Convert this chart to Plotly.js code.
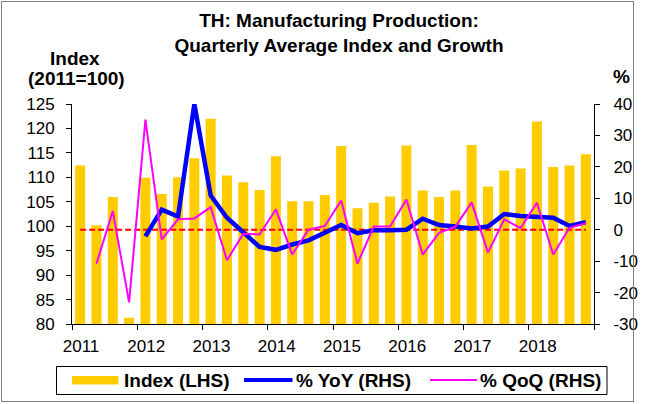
<!DOCTYPE html>
<html>
<head>
<meta charset="utf-8">
<script src="https://cdn.plot.ly/plotly-3.0.1.min.js"></script>
<style>
  html, body { margin: 0; padding: 0; background: #fff; }
  #wrap { position: relative; width: 649px; height: 404px; }
  #chart { width: 649px; height: 404px; }
  #frame { position: absolute; left: 1px; top: 1px; width: 631px; height: 399px;
           border: 1px solid #808080; pointer-events: none; }
</style>
</head>
<body>
<div id="wrap"><div id="chart"></div><div id="frame"></div></div>
<script>
// ---- data ----
const quarters = [
  "2011Q1","2011Q2","2011Q3","2011Q4",
  "2012Q1","2012Q2","2012Q3","2012Q4",
  "2013Q1","2013Q2","2013Q3","2013Q4",
  "2014Q1","2014Q2","2014Q3","2014Q4",
  "2015Q1","2015Q2","2015Q3","2015Q4",
  "2016Q1","2016Q2","2016Q3","2016Q4",
  "2017Q1","2017Q2","2017Q3","2017Q4",
  "2018Q1","2018Q2","2018Q3","2018Q4"
];
const indexLHS = [
  112.4, 100.2, 106.0, 81.3,
  109.9, 106.6, 110.0, 113.9,
  122.0, 110.4, 109.0, 107.4,
  114.3, 105.1, 105.1, 106.4,
  116.4, 103.7, 104.8, 106.1,
  116.5, 107.3, 106.0, 107.3,
  116.6, 108.1, 111.4, 111.8,
  121.4, 112.1, 112.4, 114.7
];
const yoyRHS = [
  null, null, null, null,
  -2.1, 6.4, 4.2, 40.0,
  10.9, 3.8, -0.8, -5.5,
  -6.4, -4.7, -3.4, -0.8,
  1.5, -1.1, -0.2, -0.2,
  0.0, 3.5, 1.5, 1.0,
  0.4, 1.0, 5.0, 4.4,
  4.1, 3.8, 1.2, 2.4
];
const qoqRHS = [
  null, -10.8, 5.9, -23.1,
  35.0, -3.1, 3.3, 3.6,
  7.2, -9.7, -1.3, -1.5,
  6.5, -7.9, 0.0, 1.2,
  9.3, -10.8, 1.0, 1.0,
  9.6, -7.9, -1.0, 1.0,
  8.7, -7.3, 3.3, 0.5,
  8.6, -7.9, 0.6, 2.1
];
const yearTicks = [2011, 2012, 2013, 2014, 2015, 2016, 2017, 2018, 2019];
const yearLabels = ["2011","2012","2013","2014","2015","2016","2017","2018",""];
const lhsTicks = [80, 85, 90, 95, 100, 105, 110, 115, 120, 125];
const rhsTicks = [-30, -20, -10, 0, 10, 20, 30, 40];
const rhsLabels = ["-30", "-20", "-10", "0", "10", "20", "30", "40"];

// quarter label -> position on a continuous year axis (centre of the quarter)
const xPos = quarters.map(q => {
  const y = parseInt(q.slice(0, 4), 10);
  const n = parseInt(q.slice(5), 10);
  return y + (n - 1) / 4 + 0.125;
});

// ---- layout helpers (pixel -> paper) ----
const ML = 72, MR = 55, MT = 104, MB = 80, W = 649, H = 404;
const PW = W - ML - MR, PH = H - MT - MB;
const px = v => (v - ML) / PW;
const py = v => (H - MB - v) / PH;

const FONT = "Arial, 'Liberation Sans', sans-serif";
const BOLD = { family: FONT, size: 19, weight: "bold", color: "#000" };
const TICK = { family: FONT, size: 17, color: "#000" };

const traces = [
  {
    type: "bar", x: xPos, y: indexLHS, width: 0.153,
    marker: { color: "#FFCC00", line: { width: 0 } },
    name: "Index (LHS)", showlegend: false
  },
  {
    type: "scatter", mode: "lines", yaxis: "y2",
    x: [xPos[0], xPos[xPos.length - 1]], y: [0, 0],
    line: { color: "#FF0000", width: 2, dash: "6px,3px" },
    showlegend: false, hoverinfo: "skip"
  },
  {
    type: "scatter", mode: "lines", yaxis: "y2", x: xPos, y: yoyRHS,
    line: { color: "#0000FF", width: 4.5 },
    name: "% YoY (RHS)", showlegend: false
  },
  {
    type: "scatter", mode: "lines", yaxis: "y2", x: xPos, y: qoqRHS,
    line: { color: "#FF00FF", width: 2 },
    name: "% QoQ (RHS)", showlegend: false
  }
];

const legendY = 380.5;
const layout = {
  width: W, height: H,
  margin: { l: ML, r: MR, t: MT, b: MB, pad: 0 },
  paper_bgcolor: "#ffffff", plot_bgcolor: "#ffffff",
  font: { family: FONT, size: 17, color: "#000" },
  title: {
    text: "TH: Manufacturing Production:<br>Quarterly Average Index and Growth",
    font: BOLD,
    xref: "container", x: 339 / W, xanchor: "center",
    yref: "container", y: 1 - 27 / H, yanchor: "top"
  },
  xaxis: {
    range: [2011, 2019], tickmode: "array", tickvals: yearTicks, ticktext: yearLabels,
    ticks: "outside", ticklen: 5, tickcolor: "#000", tickwidth: 1,
    showline: true, linecolor: "#000", linewidth: 1, showgrid: false, zeroline: false,
    ticklabelshift: 9, ticklabelstandoff: 2, tickfont: TICK
  },
  yaxis: {
    range: [80, 125], tickmode: "array", tickvals: lhsTicks,
    ticks: "outside", ticklen: 5, tickcolor: "#000",
    showline: true, linecolor: "#000", linewidth: 1, showgrid: false, zeroline: false,
    ticklabelstandoff: 8, tickfont: TICK
  },
  yaxis2: {
    range: [-30, 40], tickmode: "array", tickvals: rhsTicks, ticktext: rhsLabels,
    overlaying: "y", side: "right",
    ticks: "outside", ticklen: 5, tickcolor: "#000",
    showline: true, linecolor: "#000", linewidth: 1, showgrid: false, zeroline: false,
    ticklabelstandoff: 10, tickfont: TICK
  },
  showlegend: false,
  annotations: [
    { text: "Index", xref: "paper", yref: "paper", x: px(75), y: py(58),
      xanchor: "center", yanchor: "middle", showarrow: false, font: BOLD },
    { text: "(2011=100)", xref: "paper", yref: "paper", x: px(76), y: py(78),
      xanchor: "center", yanchor: "middle", showarrow: false, font: BOLD },
    { text: "%", xref: "paper", yref: "paper", x: px(621), y: py(77),
      xanchor: "center", yanchor: "middle", showarrow: false, font: BOLD },
    { text: "Index (LHS)", xref: "paper", yref: "paper", x: px(122), y: py(legendY),
      xanchor: "left", yanchor: "middle", showarrow: false, font: BOLD },
    { text: "% YoY (RHS)", xref: "paper", yref: "paper", x: px(294), y: py(legendY),
      xanchor: "left", yanchor: "middle", showarrow: false, font: BOLD },
    { text: "% QoQ (RHS)", xref: "paper", yref: "paper", x: px(478), y: py(legendY),
      xanchor: "left", yanchor: "middle", showarrow: false, font: BOLD }
  ],
  shapes: [
    { type: "rect", xref: "paper", yref: "paper", x0: px(56.5), x1: px(607), y0: py(366.5), y1: py(394.5),
      line: { color: "#000", width: 1 }, fillcolor: "rgba(0,0,0,0)" },
    { type: "rect", xref: "paper", yref: "paper", x0: px(72), x1: px(118.5), y0: py(376), y1: py(384.5),
      line: { width: 0 }, fillcolor: "#FFCC00" },
    { type: "line", xref: "paper", yref: "paper", x0: px(244), x1: px(292.5), y0: py(380), y1: py(380),
      line: { color: "#0000FF", width: 4 } },
    { type: "line", xref: "paper", yref: "paper", x0: px(430), x1: px(477), y0: py(380), y1: py(380),
      line: { color: "#FF00FF", width: 2 } }
  ]
};

Plotly.newPlot("chart", traces, layout, { displayModeBar: false, staticPlot: true });
</script>
</body>
</html>
